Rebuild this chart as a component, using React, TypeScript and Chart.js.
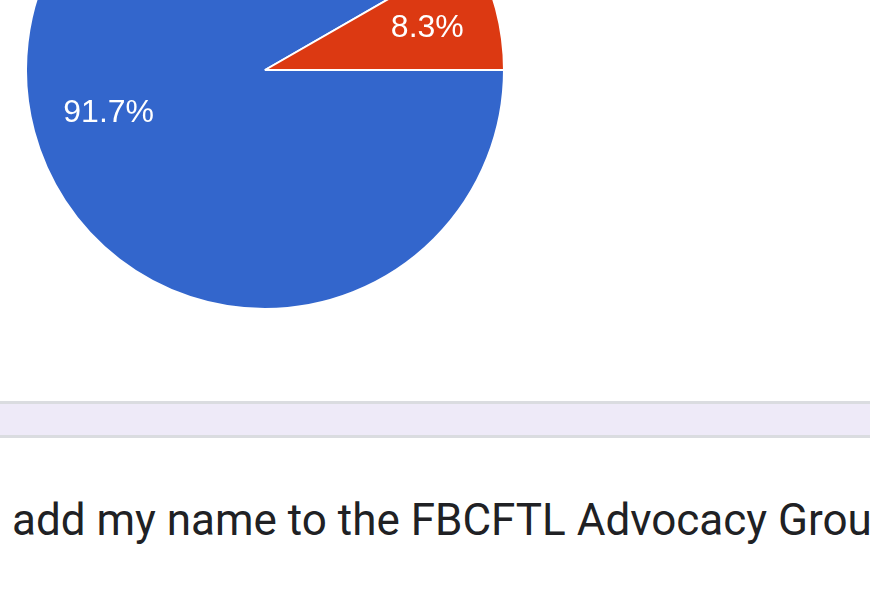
import React, { useEffect, useRef } from "react";
import { Chart, registerables } from "chart.js";

Chart.register(...registerables);

const categories = ["Yes", "No"];
const values = [91.7, 8.3];
const sliceColors = ["#3366cc", "#dc3912"];
const sliceLabels = ["91.7%", "8.3%"];
const questionText = "add my name to the FBCFTL Advocacy Group";

const labelPlugin = {
  id: "sliceLabels",
  afterDatasetsDraw(chart: any) {
    const ctx = chart.ctx;
    const meta = chart.getDatasetMeta(0);
    ctx.save();
    ctx.fillStyle = "#ffffff";
    ctx.font = '32px "Liberation Sans", Arial, sans-serif';
    ctx.textAlign = "center";
    ctx.textBaseline = "middle";
    meta.data.forEach((arc: any, i: number) => {
      const { x, y, startAngle, endAngle, outerRadius } = arc.getProps(
        ["x", "y", "startAngle", "endAngle", "outerRadius"],
        true
      );
      const mid = (startAngle + endAngle) / 2;
      const r = outerRadius * 0.69;
      ctx.fillText(sliceLabels[i], x + Math.cos(mid) * r + 3, y + Math.sin(mid) * r + 1);
    });
    ctx.restore();
  },
};

export default function App() {
  const ref = useRef<HTMLCanvasElement>(null);
  useEffect(() => {
    if (!ref.current) return;
    const chart = new Chart(ref.current, {
      type: "pie",
      data: {
        labels: categories,
        datasets: [
          {
            data: values,
            backgroundColor: sliceColors,
            borderColor: "#ffffff",
            borderWidth: 2,
          },
        ],
      },
      options: {
        responsive: false,
        animation: false,
        rotation: 90,
        layout: { padding: 0 },
        plugins: {
          legend: { display: false },
          tooltip: { enabled: false },
        },
      },
      plugins: [labelPlugin],
    });
    return () => chart.destroy();
  }, []);

  return (
    <div
      style={{
        position: "fixed",
        left: 0,
        top: 0,
        width: 870,
        height: 594,
        overflow: "hidden",
        background: "#ffffff",
      }}
    >
      <canvas
        ref={ref}
        width={480}
        height={480}
        style={{ position: "absolute", left: 25, top: -170, width: 480, height: 480 }}
      />
      <div
        style={{
          position: "absolute",
          left: 0,
          top: 401,
          width: 870,
          height: 31,
          background: "#eeeaf8",
          borderTop: "3px solid #dadce0",
          borderBottom: "3px solid #dadce0",
        }}
      />
      <div
        style={{
          position: "absolute",
          left: 12,
          top: 495,
          whiteSpace: "nowrap",
          fontFamily: "Roboto, sans-serif",
          fontSize: 44,
          lineHeight: "50px",
          color: "#202124",
        }}
      >
        {questionText}
      </div>
    </div>
  );
}
